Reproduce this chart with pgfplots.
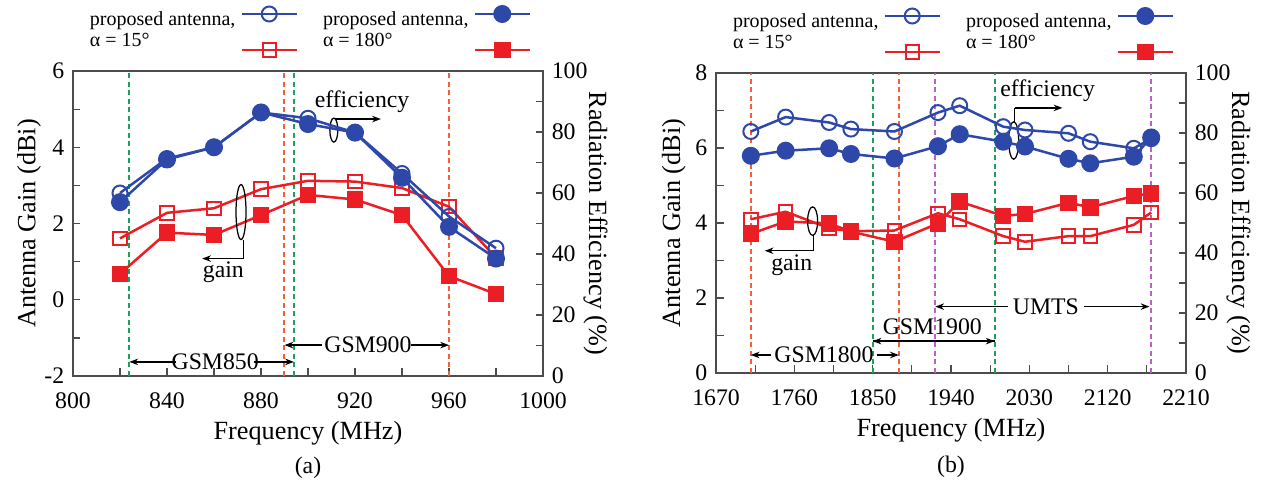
\documentclass[border=0pt]{standalone}
\usepackage{fontspec}
\setmainfont{Liberation Serif}
\usepackage{pgfplots}
\pgfplotsset{compat=1.18}
\usetikzlibrary{arrows.meta}

\definecolor{cblue}{RGB}{46,72,170}
\definecolor{cred}{RGB}{234,30,36}
\definecolor{cgreen}{RGB}{30,160,90}
\definecolor{corange}{RGB}{245,95,55}
\definecolor{cpurple}{RGB}{190,95,200}

\pgfplotsset{
  base/.style={
    scale only axis, width=188pt, height=122pt,
    font=\fontsize{9.5}{11}\selectfont,
    /pgf/number format/assume math mode=true,
    /pgf/number format/1000 sep={},
    tick align=inside,
    axis line style={black!70, line width=0.6pt},
    tick style={black!70, line width=0.5pt},
    major tick length=3pt, minor tick length=3pt,
    xticklabel style={yshift=-3pt},
    clip=false,
  },
  lopen/.style={cblue, line width=1pt, mark=o, mark size=3pt, mark options={line width=0.8pt}},
  lfill/.style={cblue, line width=1pt, mark=*, mark size=3.1pt},
  sopen/.style={cred, line width=1pt, mark=square, mark size=2.7pt, mark options={line width=0.8pt}},
  sfill/.style={cred, line width=1pt, mark=square*, mark size=2.8pt},
  lgd/.style={
    legend style={at={(0.5,1)}, anchor=south, yshift=5.4pt, draw=none, fill=none,
      legend columns=2, font=\fontsize{8}{9}\selectfont, row sep=8.5pt,
      inner xsep=0pt, inner ysep=0pt,
      /tikz/every even column/.append style={column sep=8pt},
      cells={anchor=west}},
    legend plot pos=right,
    legend image code/.code={
      \draw[mark repeat=2, mark phase=2] plot coordinates {(0pt,0pt) (11pt,0pt) (22pt,0pt)};},
  },
  rlabel/.style={ylabel style={font=\fontsize{10.5}{12}\selectfont, rotate=180, anchor=south, yshift=-8.5pt}},
}
\tikzset{
  arr/.style={-{Stealth[length=3.5pt,width=2.6pt]}, line width=0.5pt},
  vline/.style={line width=0.8pt, dash pattern=on 2pt off 1.4pt},
}
\newcommand{\tl}[1]{\smash{\raisebox{-5.2pt}{#1}}}
\newcommand{\bl}[1]{\smash{\raisebox{0.8pt}{#1}}}

\begin{document}
\begin{tikzpicture}
\useasboundingbox (-29.2pt,-44.4pt) rectangle (478.4pt,150.4pt);
%------------------------------ (a) gain
\begin{axis}[base,
  xmin=800, xmax=1000, xtick={800,840,...,1000}, minor x tick num=1,
  ymin=-2, ymax=6, ytick={-2,0,...,6}, minor y tick num=1,
  xtick pos=left, ytick pos=left,
  xlabel={Frequency (MHz)}, ylabel={Antenna Gain (dBi)},
  xlabel style={font=\fontsize{10.5}{12}\selectfont, yshift=1.5pt},
  ylabel style={font=\fontsize{10.5}{12}\selectfont, yshift=-5.5pt},
]
\draw[vline, cgreen] (axis cs:824,-2) -- (axis cs:824,6);
\draw[vline, cgreen] (axis cs:894,-2) -- (axis cs:894,6);
\draw[vline, corange] (axis cs:890,-2) -- (axis cs:890,6);
\draw[vline, corange] (axis cs:960,-2) -- (axis cs:960,6);

\addplot[sopen] coordinates {
  (820,1.61) (840,2.28) (860,2.40) (880,2.90) (900,3.12)
  (920,3.10) (940,2.93) (960,2.44) (980,1.10)};
\addplot[sfill] coordinates {
  (820,0.68) (840,1.76) (860,1.70) (880,2.22) (900,2.75)
  (920,2.63) (940,2.22) (960,0.62) (980,0.15)};

% band markers
\draw[arr] (axis cs:844,-1.63) -- (axis cs:824,-1.63);
\draw[arr] (axis cs:877,-1.63) -- (axis cs:894,-1.63);
\node at (axis cs:860.5,-1.63) {GSM850};
\draw[arr] (axis cs:906,-1.19) -- (axis cs:890,-1.19);
\draw[arr] (axis cs:944,-1.19) -- (axis cs:960,-1.19);
\node at (axis cs:925.5,-1.19) {GSM900};

% efficiency / gain pointers
\node at (axis cs:923,5.19) {efficiency};
\draw[line width=0.5pt] (axis cs:911,4.45) ellipse [x radius=1.6pt, y radius=4.8pt];
\draw[arr] (axis cs:911.5,4.74) -- (axis cs:931,4.74);
\node at (axis cs:864,0.73) {gain};
\draw[line width=0.5pt] (axis cs:871.5,2.3) ellipse [x radius=2pt, y radius=11pt];
\draw[line width=0.5pt] (axis cs:872.5,1.58) -- (axis cs:872.5,1.08);
\draw[arr] (axis cs:872.5,1.08) -- (axis cs:855,1.08);

\node at (rel axis cs:0.5,0) [yshift=-36.8pt] {(a)};
\end{axis}

%------------------------------ (a) efficiency
\begin{axis}[base, lgd, rlabel,
  xmin=800, xmax=1000,
  ymin=0, ymax=100, ytick={0,20,...,100}, minor y tick num=1,
  axis x line=none, axis y line*=right,
  ylabel={Radiation Efficiency (\%)},
]
\addplot[lopen] coordinates {
  (820,60.0) (840,71.3) (860,75.0) (880,86.4) (900,84.5)
  (920,79.8) (940,66.4) (960,52.3) (980,41.9)};
\addlegendentry{\tl{proposed antenna,}}
\addplot[lfill] coordinates {
  (820,57.0) (840,71.0) (860,75.0) (880,86.4) (900,82.6)
  (920,79.8) (940,65.0) (960,48.9) (980,38.5)};
\addlegendentry{\tl{proposed antenna,}}
\addlegendimage{sopen}
\addlegendentry{\bl{α = 15°}}
\addlegendimage{sfill}
\addlegendentry{\bl{α = 180°}}
\end{axis}

%------------------------------ (b) gain
\begin{axis}[base, at={(257.2pt,1.2pt)}, height=120pt,
  xmin=1670, xmax=2210, xtick={1670,1760,...,2210}, minor x tick num=1,
  ymin=0, ymax=8, ytick={0,2,...,8}, minor y tick num=1,
  xtick pos=left, ytick pos=left,
  xlabel={Frequency (MHz)}, ylabel={Antenna Gain (dBi)},
  xlabel style={font=\fontsize{10.5}{12}\selectfont, yshift=1.5pt},
  ylabel style={font=\fontsize{10.5}{12}\selectfont, yshift=-3pt},
]
\draw[vline, corange] (axis cs:1710,0) -- (axis cs:1710,8);
\draw[vline, corange] (axis cs:1880,0) -- (axis cs:1880,8);
\draw[vline, cgreen] (axis cs:1850,0) -- (axis cs:1850,8);
\draw[vline, cgreen] (axis cs:1990,0) -- (axis cs:1990,8);
\draw[vline, cpurple] (axis cs:1922,0) -- (axis cs:1922,8);
\draw[vline, cpurple] (axis cs:2170,0) -- (axis cs:2170,8);

\addplot[sopen] coordinates {
  (1710,4.10) (1750,4.30) (1800,3.86) (1825,3.78) (1875,3.80)
  (1925,4.26) (1950,4.10) (2000,3.65) (2025,3.50) (2075,3.65)
  (2100,3.65) (2150,3.95) (2170,4.28)};
\addplot[sfill] coordinates {
  (1710,3.71) (1750,4.04) (1800,3.99) (1825,3.77) (1875,3.50)
  (1925,3.99) (1950,4.57) (2000,4.19) (2025,4.24) (2075,4.54)
  (2100,4.42) (2150,4.72) (2170,4.79)};

% band markers
\draw[arr] (axis cs:1733,0.48) -- (axis cs:1710,0.48);
\draw[arr] (axis cs:1855,0.48) -- (axis cs:1880,0.48);
\node at (axis cs:1794,0.48) {GSM1800};
\draw[arr] (axis cs:1850,0.85) -- (axis cs:1990,0.85);
\draw[arr] (axis cs:1990,0.85) -- (axis cs:1850,0.85);
\node at (axis cs:1918.5,1.24) {GSM1900};
\draw[arr] (axis cs:1990,1.77) -- (axis cs:1922,1.77);
\draw[line width=0.5pt] (axis cs:1990,1.77) -- (axis cs:2005,1.77);
\draw[arr] (axis cs:2093,1.77) -- (axis cs:2168,1.77);
\node at (axis cs:2049,1.77) {UMTS};

% efficiency / gain pointers
\node at (axis cs:2051,7.53) {efficiency};
\draw[line width=0.5pt] (axis cs:2012,6.2) ellipse [x radius=2pt, y radius=7.5pt];
\draw[line width=0.5pt] (axis cs:2013,6.7) -- (axis cs:2013,7.07);
\draw[arr] (axis cs:2013,7.07) -- (axis cs:2068,7.07);
\node at (axis cs:1757,2.88) {gain};
\draw[line width=0.5pt] (axis cs:1781,4.05) ellipse [x radius=2pt, y radius=5.7pt];
\draw[line width=0.5pt] (axis cs:1782,3.68) -- (axis cs:1782,3.26);
\draw[arr] (axis cs:1782,3.26) -- (axis cs:1726,3.26);

\node at (rel axis cs:0.5,0) [yshift=-37.4pt] {(b)};
\end{axis}

%------------------------------ (b) efficiency
\begin{axis}[base, lgd, rlabel, at={(257.2pt,1.2pt)}, height=120pt,
  xmin=1670, xmax=2210,
  ymin=0, ymax=100, ytick={0,20,...,100}, minor y tick num=1,
  axis x line=none, axis y line*=right,
  ylabel={Radiation Efficiency (\%)},
]
\addplot[lopen] coordinates {
  (1710,80.5) (1750,85.3) (1800,83.5) (1825,81.3) (1875,80.5)
  (1925,86.8) (1950,89.1) (2000,82.1) (2025,81.0) (2075,79.9)
  (2100,77.1) (2150,74.9) (2170,78.1)};
\addlegendentry{\tl{proposed antenna,}}
\addplot[lfill] coordinates {
  (1710,72.4) (1750,74.1) (1800,74.9) (1825,73.0) (1875,71.5)
  (1925,75.6) (1950,79.6) (2000,77.1) (2025,75.5) (2075,71.4)
  (2100,69.9) (2150,72.1) (2170,78.5)};
\addlegendentry{\tl{proposed antenna,}}
\addlegendimage{sopen}
\addlegendentry{\bl{α = 15°}}
\addlegendimage{sfill}
\addlegendentry{\bl{α = 180°}}
\end{axis}
\end{tikzpicture}
\end{document}
